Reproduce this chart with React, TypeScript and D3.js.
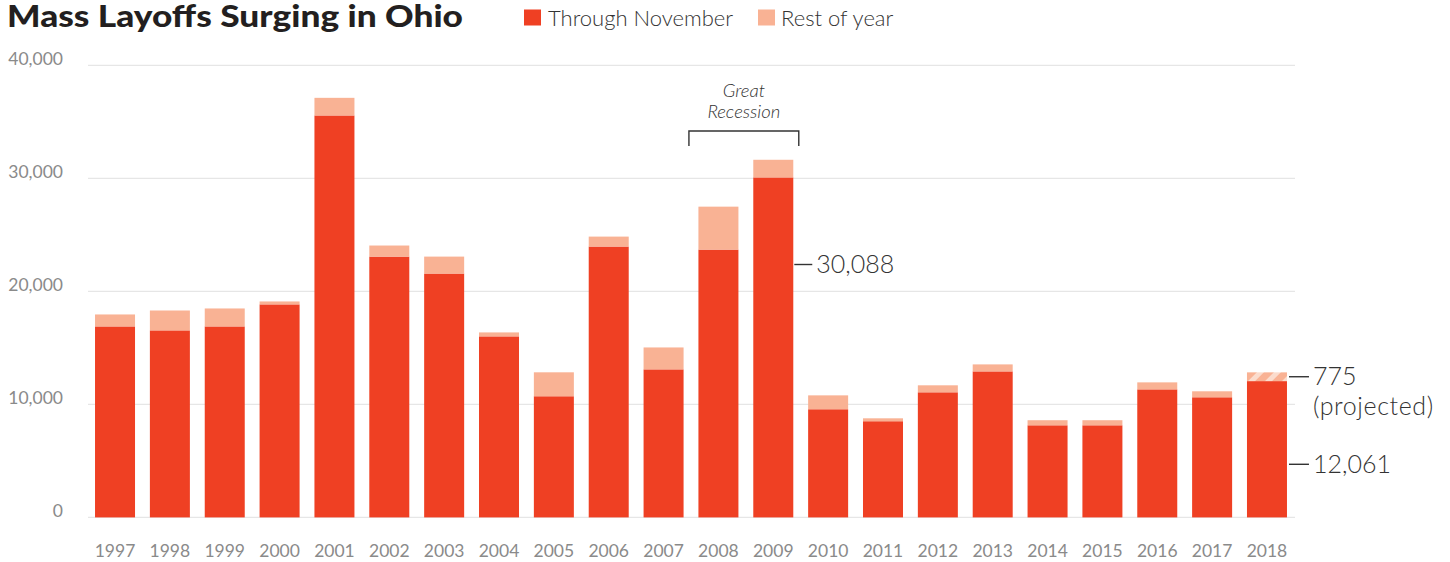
import React from "react";
import * as d3 from "d3";

const years = ["1997","1998","1999","2000","2001","2002","2003","2004","2005","2006","2007","2008","2009","2010","2011","2012","2013","2014","2015","2016","2017","2018"];
const throughNovember = [16900,16550,16900,18850,35570,23080,21580,16020,10720,23970,13100,23700,30088,9570,8510,11070,12920,8150,8150,11330,10630,12061];
const restOfYear = [1060,1760,1590,260,1560,980,1500,350,2120,880,1940,3800,1560,1230,260,620,620,450,450,620,530,775];
const projectedYear = "2018";
const yTicks = [0, 10000, 20000, 30000, 40000];
const recessionYears = ["2008", "2009"];

const W = 1450, H = 562;
const RED = "#EF4023";
const LIGHT = "#F9B294";
const FONT = "Lato, 'Open Sans', sans-serif";

export default function App() {
  const x = d3.scaleBand<string>().domain(years).range([87.6, 1294.4]).paddingInner(0.2708).paddingOuter(0.1354);
  const y = d3.scaleLinear().domain([0, 40000]).range([517.4, 65.4]);
  const bw = x.bandwidth();
  const fmt = d3.format(",");
  const series = d3.stack<any>().keys(["through", "rest"])(
    years.map((yr, i) => ({ year: yr, through: throughNovember[i], rest: restOfYear[i] }))
  );
  const i2009 = years.indexOf("2009");
  const i2018 = years.indexOf(projectedYear);
  const x2009r = (x("2009") as number) + bw;
  const x2018r = (x(projectedYear) as number) + bw;
  const rx0 = (x(recessionYears[0]) as number) - 9.5;
  const rx1 = (x(recessionYears[1]) as number) + bw + 5.5;
  const rcx = (rx0 + rx1) / 2;
  const yProj = y(throughNovember[i2018] + restOfYear[i2018] / 2);

  return (
    <svg width={W} height={H} style={{ position: "absolute", left: 0, top: 0, display: "block", background: "#fff" }} fontFamily={FONT}>
      <defs>
        <pattern id="hatch" width="12" height="12" patternUnits="userSpaceOnUse" patternTransform="rotate(45)">
          <rect width="12" height="12" fill={LIGHT} />
          <rect width="5" height="12" fill="#FBDCCD" />
        </pattern>
      </defs>
      {/* Title */}
      <text x={7} y={27} fontSize={31} fontWeight={900} fill="#231F20" textLength={456} lengthAdjust="spacingAndGlyphs">Mass Layoffs Surging in Ohio</text>
      {/* Legend */}
      <rect x={524} y={9.5} width={17} height={16} fill={RED} />
      <text x={548} y={26} fontSize={22} fontWeight={300} fill="#333">Through November</text>
      <rect x={758} y={9.5} width={17} height={16} fill={LIGHT} />
      <text x={781} y={26} fontSize={22} fontWeight={300} fill="#333">Rest of year</text>

      {/* Grid */}
      {yTicks.map((t) => (
        <g key={t}>
          <line x1={88} x2={1295} y1={y(t)} y2={y(t)} stroke="#E6E6E6" strokeWidth={1.3} />
          <text x={63} y={y(t)} textAnchor="end" fontSize={17.5} fill="#8A8A8A">{fmt(t)}</text>
        </g>
      ))}

      {/* Bars */}
      {series.map((s, si) => (
        <g key={s.key}>
          {s.map((d, i) => {
            const yr = years[i];
            const fill = si === 0 ? RED : yr === projectedYear ? "url(#hatch)" : LIGHT;
            return (
              <rect key={yr} x={x(yr)} y={y(d[1])} width={bw} height={y(d[0]) - y(d[1])} fill={fill} />
            );
          })}
        </g>
      ))}

      {/* Year labels */}
      {years.map((yr) => (
        <text key={yr} x={(x(yr) as number) + bw / 2} y={557} textAnchor="middle" fontSize={17.5} fill="#8A8A8A">{yr}</text>
      ))}

      {/* Great Recession */}
      <text x={rcx} y={97} textAnchor="middle" fontSize={18.5} fontWeight={300} fontStyle="italic" fill="#333">Great</text>
      <text x={rcx} y={118} textAnchor="middle" fontSize={18.5} fontWeight={300} fontStyle="italic" fill="#333">Recession</text>
      <path d={`M${rx0},146V131H${rx1}V146`} fill="none" stroke="#333" strokeWidth={1.4} />

      {/* 2009 label */}
      <line x1={x2009r + 1} x2={x2009r + 19} y1={y(22380)} y2={y(22380)} stroke="#333" strokeWidth={1.4} />
      <text x={x2009r + 23} y={y(22380)} dy="0.35em" fontSize={25} fontWeight={300} fill="#333">{fmt(throughNovember[i2009])}</text>

      {/* 2018 labels */}
      <line x1={x2018r + 2} x2={x2018r + 22} y1={yProj} y2={yProj} stroke="#333" strokeWidth={1.4} />
      <text x={x2018r + 26} y={yProj} dy="0.35em" fontSize={25} fontWeight={300} fill="#333">{fmt(restOfYear[i2018])}</text>
      <text x={x2018r + 26} y={yProj + 30} dy="0.35em" fontSize={25} fontWeight={300} fill="#333" letterSpacing={0.6}>(projected)</text>
      <line x1={x2018r + 2} x2={x2018r + 22} y1={y(4700)} y2={y(4700)} stroke="#333" strokeWidth={1.4} />
      <text x={x2018r + 26} y={y(4700)} dy="0.35em" fontSize={25} fontWeight={300} fill="#333">{fmt(throughNovember[i2018])}</text>
    </svg>
  );
}
